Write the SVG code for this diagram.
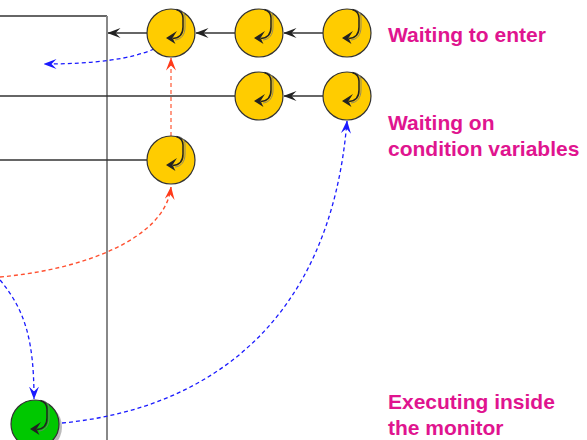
<svg xmlns="http://www.w3.org/2000/svg" xmlns:xlink="http://www.w3.org/1999/xlink" width="587" height="440" viewBox="0 0 587 440">
  <style>
    .wall { stroke: #333; stroke-width: 1.3; fill: none; }
    .frame { stroke: #888; stroke-width: 2; fill: none; }
    .link { stroke: #333; stroke-width: 1.3; fill: none; }
    .proc { fill: #ffcc00; stroke: #333; stroke-width: 1.2; }
    .run { fill: #00c800; stroke: #333; stroke-width: 1.2; }
    .shadow { fill: #bbb; }
    .blue { stroke: #1a1aff; stroke-width: 1.3; stroke-dasharray: 4 3; fill: none; }
    .red { stroke: #ff5030; stroke-width: 1.4; stroke-dasharray: 4 3; fill: none; }
    .pink { stroke: #ff9078; stroke-width: 1.8; stroke-dasharray: 4 3; fill: none; }
    .label { font-family: "Liberation Sans", Arial, sans-serif; font-weight: bold; font-size: 21px; fill: #e0148f; }
  </style>
  <defs>
    <marker id="headBlack" viewBox="0 0 13 10" refX="12.5" refY="5" markerWidth="13" markerHeight="10" markerUnits="userSpaceOnUse" orient="auto">
      <path d="M13,5 L0,0 L5,5 L0,10 Z" fill="#222"/>
    </marker>
    <marker id="headBlue" viewBox="0 0 13 10" refX="12.5" refY="5" markerWidth="13" markerHeight="10" markerUnits="userSpaceOnUse" orient="auto">
      <path d="M13,5 L0,0 L5,5 L0,10 Z" fill="#1a1aff"/>
    </marker>
    <marker id="headRed" viewBox="0 0 13 10" refX="12.5" refY="5" markerWidth="13" markerHeight="10" markerUnits="userSpaceOnUse" orient="auto">
      <path d="M13,5 L0,0 L5,5 L0,10 Z" fill="#ff3a1a"/>
    </marker>
    <!-- curled arrow glyph drawn inside every process circle -->
    <g id="curl">
      <path d="M7.5,-23.5 C12,-22 14,-20 14,-15 L14,-6 C14,2 10,6.5 4,7" fill="none" stroke="#777" stroke-width="0.8"/>
      <path d="M5.5,-23.5 C10,-22 12,-20 12,-15 L12,-6 C12,1 8,5 2,5.5" fill="none" stroke="#222" stroke-width="1.5"/>
      <path d="M-5,5 L6,-2 L1.5,5 L4.5,11 Z" fill="#222"/>
    </g>
  </defs>

  <!-- monitor outline -->
  <g id="monitor">
    <path class="wall" d="M0,16 H107"/>
    <path class="frame" d="M107,16 V440"/>
  </g>

  <!-- connectors -->
  <g id="connectors">
    <path class="link" d="M147,33 H108" marker-end="url(#headBlack)"/>
    <path class="link" d="M235,33 H196" marker-end="url(#headBlack)"/>
    <path class="link" d="M323,33 H284" marker-end="url(#headBlack)"/>
    <path class="link" d="M0,96 H235"/>
    <path class="link" d="M323,96 H284" marker-end="url(#headBlack)"/>
    <path class="link" d="M0,160 H147"/>
    <path class="pink" d="M171,136 V58" marker-end="url(#headRed)"/>
    <path class="red" d="M0,277 C80,270 165,240 171,187" marker-end="url(#headRed)"/>
    <path class="blue" d="M154,49 Q120,64 44,64" marker-end="url(#headBlue)"/>
    <path class="blue" d="M0,280 C25,310 34,340 34,399" marker-end="url(#headBlue)"/>
    <path class="blue" d="M62,423 C200,410 330,330 347,121" marker-end="url(#headBlue)"/>
  </g>

  <!-- waiting to enter -->
  <g id="enter1">
    <circle class="proc" cx="171" cy="33" r="24"/>
    <use xlink:href="#curl" x="171" y="33"/>
  </g>
  <g id="enter2">
    <circle class="proc" cx="259" cy="33" r="24"/>
    <use xlink:href="#curl" x="259" y="33"/>
  </g>
  <g id="enter3">
    <circle class="proc" cx="347" cy="33" r="24"/>
    <use xlink:href="#curl" x="347" y="33"/>
  </g>

  <!-- waiting on condition variables -->
  <g id="cond1">
    <circle class="proc" cx="259" cy="96" r="24"/>
    <use xlink:href="#curl" x="259" y="96"/>
  </g>
  <g id="cond2">
    <circle class="proc" cx="347" cy="96" r="24"/>
    <use xlink:href="#curl" x="347" y="96"/>
  </g>
  <g id="cond3">
    <circle class="proc" cx="171" cy="160" r="24"/>
    <use xlink:href="#curl" x="171" y="160"/>
  </g>

  <!-- executing inside -->
  <g id="running">
    <circle class="shadow" cx="38" cy="427" r="24"/>
    <circle class="run" cx="35" cy="424" r="24"/>
    <use xlink:href="#curl" x="35" y="424"/>
  </g>

  <!-- labels -->
  <g id="labels">
    <text class="label" x="388" y="42">Waiting to enter</text>
    <text class="label" x="388" y="130">Waiting on</text>
    <text class="label" x="388" y="156">condition variables</text>
    <text class="label" x="388" y="409">Executing inside</text>
    <text class="label" x="388" y="435">the monitor</text>
  </g>
</svg>
